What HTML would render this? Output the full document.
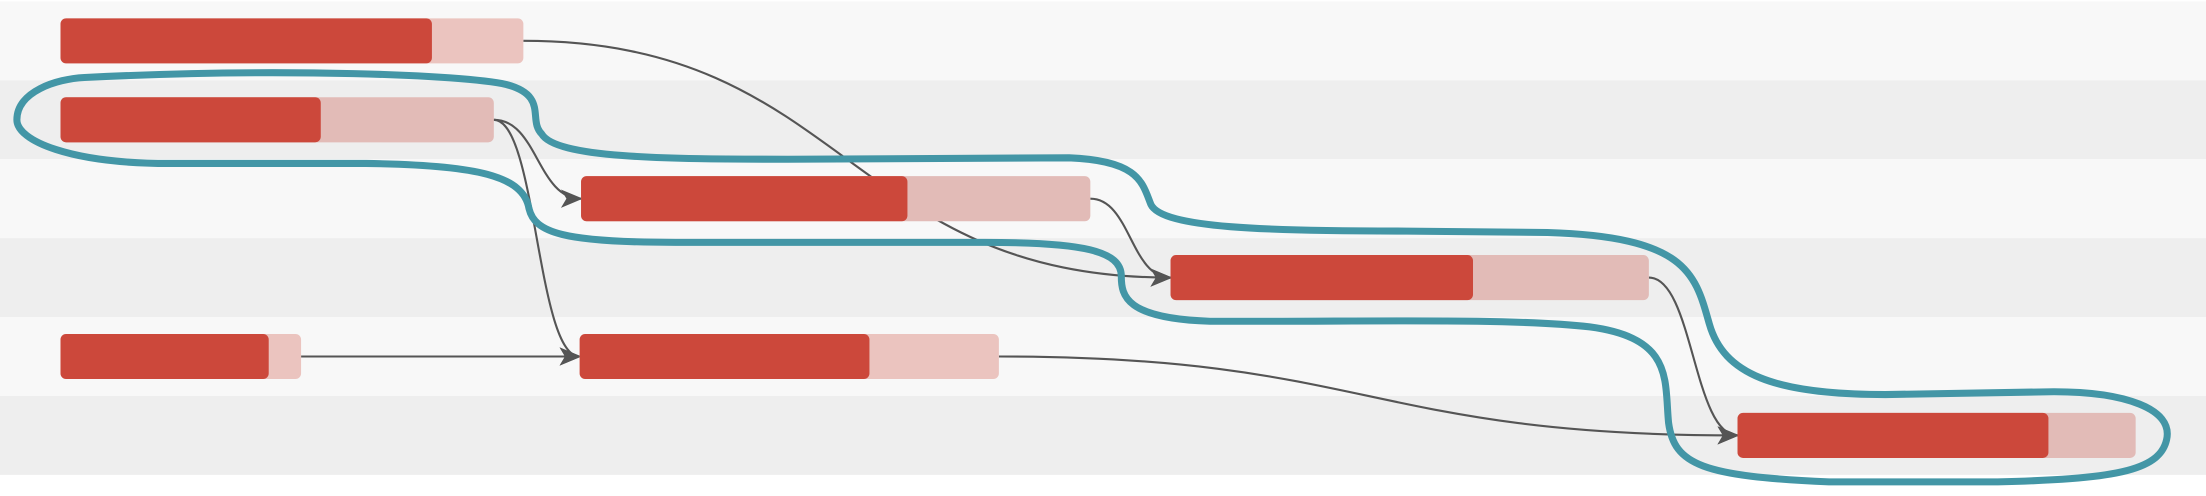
<!DOCTYPE html>
<html><head><meta charset="utf-8"><style>
html,body{margin:0;padding:0;background:#fff;}
svg{display:block;}
</style></head><body>
<svg id="chart" width="2206" height="496" viewBox="0 0 1568 352" preserveAspectRatio="none" xmlns="http://www.w3.org/2000/svg">
<defs>
<marker id="ah" viewBox="0 0 12 10" refX="11" refY="5" markerWidth="16" markerHeight="13" markerUnits="userSpaceOnUse" orient="auto">
<path d="M0 0 L12 5 L0 10 L3 5 Z" fill="#555"/>
</marker>
</defs>
<g id="bands"></g>
<g id="arrows"></g>
<g id="bars"></g>
<path fill="none" stroke="#4396a6" stroke-width="5" d="M 60 55 C 200 48, 330 53, 360 60 C 390 68, 375 85, 385 95 C 395 112, 470 113, 560 113 L 760 112 C 810 114, 812 130, 818 145 C 826 162, 900 164, 1000 164 L 1100 165 C 1200 168, 1205 195, 1215 230 C 1225 265, 1260 280, 1340 280 L 1460 278 C 1510 278, 1545 290, 1540 312 C 1535 335, 1500 340, 1420 342 L 1300 342 C 1210 338, 1190 330, 1186 300 C 1183 270, 1190 240, 1130 232 C 1080 226, 980 228, 900 228 L 860 228 C 800 226, 797 210, 797 196 C 797 178, 770 172, 700 172 L 480 172 C 400 172, 380 165, 376 148 C 372 125, 340 117, 260 116 L 120 116 C 50 116, 12 100, 12 85 C 12 65, 40 56, 60 55 Z"/>
</svg>
<script>
// task data (days)
const taskNames = ['task-a','task-b','task-c','task-d','task-e','task-f','task-g'];
const taskRows = [0,1,2,3,4,4,5];
const taskStart = [0,0,37,78.9,0,36.9,119.2];
const taskEnd = [32.9,30.8,73.2,112.9,17.1,66.7,147.5];
const taskProgress = [26.4,18.5,60.2,100.4,14.8,57.5,141.3];
const taskCritical = [false,true,true,true,false,false,true];
const depFrom = [0,1,1,4,2,3,5];
const depTo = [3,2,5,5,3,6,6];
const rowCount = 6;

const NS='http://www.w3.org/2000/svg';
const x0=43, pxPerDay=10, rowH=56, topY=1, barH=32;
function xs(d){return x0+d*pxPerDay;}
function rowTop(r){return topY+r*rowH;}
function yc(r){return rowTop(r)+rowH/2;}
function mk(tag,attrs,parent){const e=document.createElementNS(NS,tag);for(const k in attrs)e.setAttribute(k,attrs[k]);parent.appendChild(e);return e;}

const bands=document.getElementById('bands');
for(let r=0;r<rowCount;r++){
  const b=mk('rect',{x:0,y:rowTop(r),width:1568,height:rowH,fill:r%2?'#eeeeee':'#f8f8f8'},bands);
  
  
}
const bars=document.getElementById('bars');
for(let i=0;i<taskNames.length;i++){
  const g=mk('g',{},bars);
  
  
  const y=yc(taskRows[i])-barH/2;
  mk('rect',{x:xs(taskStart[i]),y:y,width:xs(taskEnd[i])-xs(taskStart[i]),height:barH,rx:4,fill:taskCritical[i]?'#e2bbb7':'#ebc4bf'},g);
  const p=mk('rect',{x:xs(taskStart[i]),y:y,width:xs(taskProgress[i])-xs(taskStart[i]),height:barH,rx:4,fill:'#cc483b'},g);
  
  
}
const arrows=document.getElementById('arrows');
for(let k=0;k<depFrom.length;k++){
  const a=depFrom[k],b=depTo[k];
  const x1=xs(taskEnd[a]),y1=yc(taskRows[a]),x2=xs(taskStart[b]),y2=yc(taskRows[b]);
  const dx=Math.max(25,(x2-x1)/2);
  const d=(y1===y2)?`M${x1} ${y1} L${x2} ${y2}`:`M${x1} ${y1} C${x1+dx} ${y1}, ${x2-dx} ${y2}, ${x2} ${y2}`;
  const p=mk('path',{d:d,fill:'none',stroke:'#555','stroke-width':1.5,'marker-end':'url(#ah)'},arrows);
  
  
}
</script>
</body></html>
